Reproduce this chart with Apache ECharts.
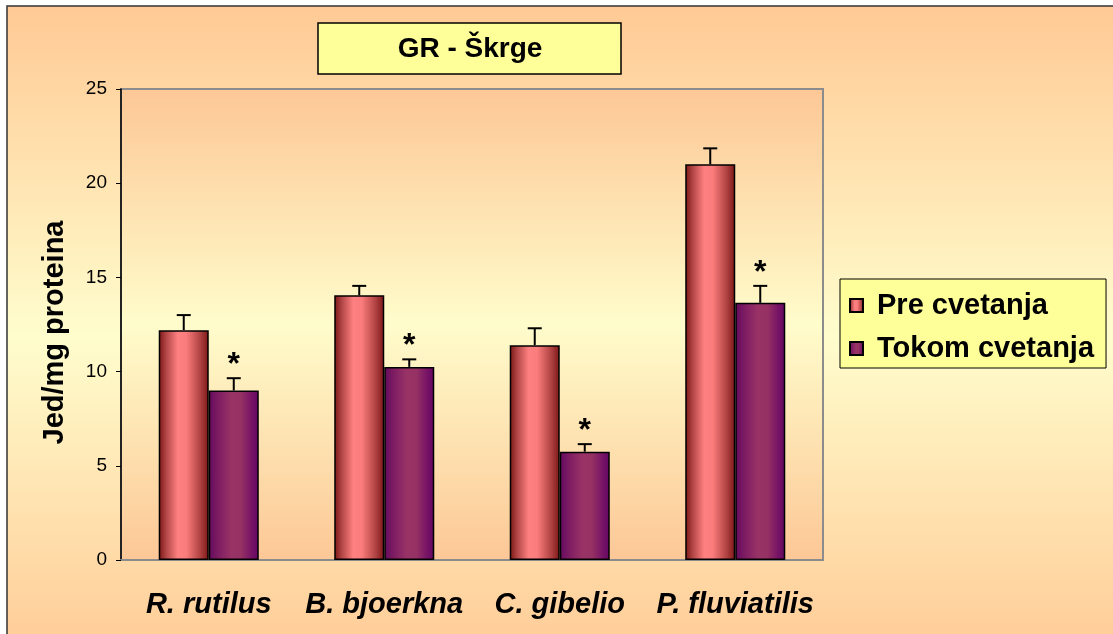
<!DOCTYPE html>
<html>
<head>
<meta charset="utf-8">
<script src="https://cdn.jsdelivr.net/npm/echarts@6/dist/echarts.min.js"></script>
<style>
  html, body { margin: 0; padding: 0; background: #fff; }
  #chart { width: 1113px; height: 634px; }
</style>
</head>
<body>
<div id="chart"></div>
<script>
// Glutathione reductase activity in gills, before and during the bloom
const categories = ['R. rutilus', 'B. bjoerkna', 'C. gibelio', 'P. fluviatilis'];
const seriesNames = ['Pre cvetanja', 'Tokom cvetanja'];
const preValues = [12.2, 14.05, 11.4, 21.0];
const preErrors = [0.8, 0.5, 0.9, 0.85];
const tokomValues = [9.0, 10.25, 5.75, 13.65];
const tokomErrors = [0.65, 0.4, 0.4, 0.9];
const tokomMarks = ['*', '*', '*', '*'];
const yMin = 0, yMax = 25, yStep = 5;

const FONT = "'Liberation Sans', Arial, sans-serif";
const CAT_GAP = 0.43;

const preFill = new echarts.graphic.LinearGradient(0, 0, 1, 0, [
  { offset: 0, color: '#7a1414' },
  { offset: 0.15, color: '#b24646' },
  { offset: 0.38, color: '#ff8080' },
  { offset: 0.55, color: '#fb7c7c' },
  { offset: 0.82, color: '#b24444' },
  { offset: 1, color: '#7c1616' }
]);
const tokomFill = new echarts.graphic.LinearGradient(0, 0, 1, 0, [
  { offset: 0, color: '#630a5e' },
  { offset: 0.2, color: '#7f1d63' },
  { offset: 0.45, color: '#993366' },
  { offset: 0.65, color: '#953163' },
  { offset: 0.85, color: '#781466' },
  { offset: 1, color: '#620662' }
]);

const bandFill = (c1, c2) => new echarts.graphic.LinearGradient(0, 0, 0, 1, [
  { offset: 0, color: c1 },
  { offset: 0.5, color: c2 },
  { offset: 1, color: c1 }
]);

// rows: [category index, value, error, side (0 = left bar, 1 = right bar), mark]
const errorRows = [];
categories.forEach((c, i) => {
  errorRows.push([i, preValues[i], preErrors[i], 0, '']);
  errorRows.push([i, tokomValues[i], tokomErrors[i], 1, tokomMarks[i]]);
});

function renderError(params, api) {
  const ci = api.value(0);
  const v = api.value(1);
  const e = api.value(2);
  const side = api.value(3);
  const mark = errorRows[params.dataIndex][4];
  const band = api.size([1, 0])[0];
  const bw = band * (1 - CAT_GAP) / 2;
  const base = api.coord([ci, v]);
  const top = api.coord([ci, v + e]);
  const x = base[0] + (side === 0 ? -bw / 2 : bw / 2);
  const style = { stroke: '#000', lineWidth: 2 };
  const children = [
    { type: 'line', shape: { x1: x, y1: base[1], x2: x, y2: top[1] }, style },
    { type: 'line', shape: { x1: x - 7, y1: top[1], x2: x + 7, y2: top[1] }, style }
  ];
  if (mark) {
    children.push({
      type: 'text',
      style: {
        text: mark, x: x, y: top[1] + 3,
        align: 'center', verticalAlign: 'bottom',
        font: 'bold 32px ' + FONT, fill: '#000'
      }
    });
  }
  return { type: 'group', children };
}

const chart = echarts.init(document.getElementById('chart'), null, { renderer: 'canvas' });

chart.setOption({
  animation: false,
  backgroundColor: '#ffffff',
  graphic: [
    {
      type: 'rect', z: -100, silent: true,
      shape: { x: 7, y: 6, width: 1130, height: 660 },
      style: { fill: bandFill('#ffc994', '#fffdcd'), stroke: '#333', lineWidth: 1.5 }
    },
    {
      type: 'group', z: 100,
      children: [
        {
          type: 'rect',
          shape: { x: 318, y: 23, width: 303, height: 51 },
          style: { fill: '#ffff99', stroke: '#000', lineWidth: 1.5 }
        },
        {
          type: 'text',
          style: {
            text: 'GR - Škrge', x: 470, y: 49,
            align: 'center', verticalAlign: 'middle',
            font: 'bold 28px ' + FONT, fill: '#000'
          }
        }
      ]
    }
  ],
  legend: {
    data: seriesNames,
    orient: 'vertical',
    left: 840, top: 279,
    padding: [12, 12, 5, 9],
    itemWidth: 13, itemHeight: 13, itemGap: 14,
    icon: 'rect',
    backgroundColor: '#ffff99',
    borderColor: '#000', borderWidth: 1,
    textStyle: { fontFamily: FONT, fontSize: 29, fontWeight: 'bold', color: '#000', padding: [0, 0, 0, 9] }
  },
  grid: {
    left: 121, top: 89, right: 290, bottom: 74,
    show: true,
    backgroundColor: bandFill('#fdc796', '#fffccb'),
    borderColor: '#8c8c8c', borderWidth: 2
  },
  xAxis: {
    type: 'category',
    data: categories,
    axisLine: { lineStyle: { color: '#8c8c8c', width: 2 } },
    axisTick: { show: false },
    axisLabel: {
      interval: 0,
      fontFamily: FONT, fontSize: 29, fontWeight: 'bold', fontStyle: 'italic',
      color: '#000', margin: 30
    }
  },
  yAxis: {
    type: 'value',
    min: yMin, max: yMax, interval: yStep,
    name: 'Jed/mg proteina',
    nameLocation: 'middle', nameRotate: 90, nameGap: 52,
    nameTextStyle: { fontFamily: FONT, fontSize: 29, fontWeight: 'bold', color: '#000', padding: [0, 16, 0, 0] },
    axisLine: { show: true, lineStyle: { color: '#000', width: 1.5 } },
    axisTick: { show: true, length: 5, lineStyle: { color: '#000', width: 1 } },
    axisLabel: { fontFamily: FONT, fontSize: 19, color: '#000', margin: 14 },
    splitLine: { show: false }
  },
  series: [
    {
      name: seriesNames[0], type: 'bar',
      data: preValues,
      barGap: '0%', barCategoryGap: (CAT_GAP * 100) + '%',
      itemStyle: { color: preFill, borderColor: '#000', borderWidth: 1.5 }
    },
    {
      name: seriesNames[1], type: 'bar',
      data: tokomValues,
      barGap: '0%', barCategoryGap: (CAT_GAP * 100) + '%',
      itemStyle: { color: tokomFill, borderColor: '#000', borderWidth: 1.5 }
    },
    {
      name: 'error', type: 'custom',
      data: errorRows.map(r => r.slice(0, 4)),
      encode: { x: 0, y: 1 },
      renderItem: renderError,
      z: 10, silent: true
    }
  ]
});
</script>
</body>
</html>
